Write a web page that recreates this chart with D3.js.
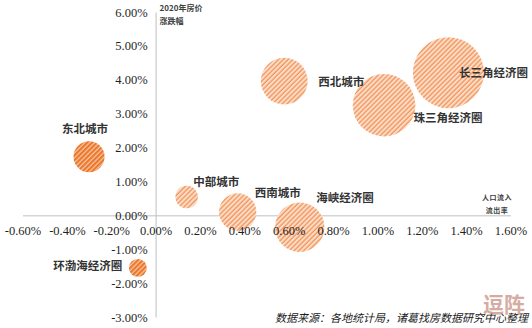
<!DOCTYPE html>
<html><head><meta charset="utf-8">
<script src="https://cdn.jsdelivr.net/npm/d3@7"></script>
<style>
html,body{margin:0;padding:0;background:#fff;}
svg{display:block;}
</style>
</head><body>
<div id="chart"></div>
<script>
// ---- data ----
const regions = ["长三角经济圈","珠三角经济圈","西北城市","海峡经济圈","西南城市","中部城市","东北城市","环渤海经济圈"];
const popFlow = [1.32, 1.03, 0.58, 0.65, 0.37, 0.14, -0.30, -0.08];   // x: 人口流入流出率 (%)
const priceChg = [4.21, 3.25, 3.96, -0.35, 0.10, 0.54, 1.73, -1.55];  // y: 2020年房价涨跌幅 (%)
const bubbleSize = [100, 77.7, 43.4, 48.4, 27.7, 10, 19.1, 6.4];       // relative bubble size
const darkStyle = [false, false, false, false, false, false, true, true];
const xTickValues = [-0.6, -0.4, -0.2, 0, 0.2, 0.4, 0.6, 0.8, 1.0, 1.2, 1.4, 1.6];
const yTickValues = [-3, -2, -1, 0, 1, 2, 3, 4, 5, 6];
const yTitle = ["2020年房价", "涨跌幅"];
const xTitle = ["人口流入", "流出率"];
const sourceText = "数据来源：各地统计局，诸葛找房数据研究中心整理";
const watermark = "逗阵";
// label placement (layout) relative to bubble centre
const labelLayout = [
  {dx: 10.5, dy: 0.5, anchor: "start"},
  {dx: 29.5, dy: 13, anchor: "start"},
  {dx: 34, dy: 0.5, anchor: "start"},
  {dx: 16.5, dy: -29, anchor: "start"},
  {dx: 17, dy: -18.5, anchor: "start"},
  {dx: 6.5, dy: -15, anchor: "start"},
  {dx: -4, dy: -27.5, anchor: "middle"},
  {dx: -15.5, dy: -1.5, anchor: "end"}
];

const W = 532, H = 328;
const svg = d3.select("#chart").append("svg").attr("width", W).attr("height", H);

const x = d3.scaleLinear().domain([-0.6, 1.6]).range([22.5, 510.5]);
const y = d3.scaleLinear().domain([-3, 6]).range([317, 12]);
const r = d3.scaleSqrt().domain([0, 100]).range([0, 35.5]);

const defs = svg.append("defs");
const pl = defs.append("pattern").attr("id", "hatchLight").attr("width", 3.4).attr("height", 3.4)
  .attr("patternUnits", "userSpaceOnUse").attr("patternTransform", "rotate(45)");
pl.append("rect").attr("width", 3.4).attr("height", 3.4).attr("fill", "#fddcc6");
pl.append("line").attr("x1", 1).attr("y1", 0).attr("x2", 1).attr("y2", 3.4)
  .attr("stroke", "#ee8747").attr("stroke-width", 1.1);
const pd = defs.append("pattern").attr("id", "hatchDark").attr("width", 3.4).attr("height", 3.4)
  .attr("patternUnits", "userSpaceOnUse").attr("patternTransform", "rotate(45)");
pd.append("rect").attr("width", 3.4).attr("height", 3.4).attr("fill", "#eb772b");
pd.append("line").attr("x1", 1).attr("y1", 0).attr("x2", 1).attr("y2", 3.4)
  .attr("stroke", "#fde6d6").attr("stroke-width", 0.9);

const fmt = d => d.toFixed(2) + "%";

// axis lines (behind bubbles)
const xLine = svg.append("g").attr("transform", `translate(0,${y(0)})`)
  .call(d3.axisBottom(x).tickValues([]).tickSizeOuter(0));
const yLine = svg.append("g").attr("transform", `translate(${x(0)},0)`)
  .call(d3.axisLeft(y).tickValues([]).tickSizeOuter(0));
[xLine, yLine].forEach(g => g.select(".domain").attr("stroke", "#bfbfbf").attr("stroke-width", 1));

// bubbles
const idx = d3.range(regions.length);
svg.append("g").selectAll("circle").data(idx).join("circle")
  .attr("cx", i => x(popFlow[i]))
  .attr("cy", i => y(priceChg[i]))
  .attr("r", i => r(bubbleSize[i]))
  .attr("fill", i => darkStyle[i] ? "url(#hatchDark)" : "url(#hatchLight)");

// tick labels (above bubbles)
const xAx = svg.append("g").attr("transform", `translate(0,${y(0)})`)
  .call(d3.axisBottom(x).tickValues(xTickValues).tickFormat(fmt).tickSize(0).tickPadding(11));
const yAx = svg.append("g").attr("transform", `translate(${x(0)},0)`)
  .call(d3.axisLeft(y).tickValues(yTickValues).tickFormat(fmt).tickSize(0).tickPadding(8));
[xAx, yAx].forEach(g => {
  g.select(".domain").remove();
  g.selectAll("text").attr("font-family", "'Liberation Serif','Times New Roman',serif")
    .attr("font-size", 12.5).attr("fill", "#1f1f1f");
});

// bubble labels
svg.append("g").selectAll("text").data(idx).join("text")
  .attr("x", i => x(popFlow[i]) + labelLayout[i].dx)
  .attr("y", i => y(priceChg[i]) + labelLayout[i].dy)
  .attr("dy", "0.35em")
  .attr("text-anchor", i => labelLayout[i].anchor)
  .attr("font-family", "'Noto Sans CJK SC',sans-serif")
  .attr("font-weight", "bold")
  .attr("font-size", 11.5)
  .attr("fill", "#333")
  .text(i => regions[i]);

// axis titles
svg.append("g").selectAll("text").data(yTitle).join("text")
  .attr("x", x(0) + 4).attr("y", (d, i) => 8 + i * 13).attr("dy", "0.35em")
  .attr("font-family", "'Noto Sans CJK SC',sans-serif").attr("font-weight", "bold")
  .attr("font-size", 8).attr("fill", "#404040").text(d => d);
svg.append("g").selectAll("text").data(xTitle).join("text")
  .attr("x", 497).attr("y", (d, i) => y(0) - 18 + i * 13).attr("dy", "0.35em")
  .attr("text-anchor", "middle")
  .attr("font-family", "'Noto Sans CJK SC',sans-serif").attr("font-weight", "bold")
  .attr("font-size", 7).attr("letter-spacing", 0.5).attr("fill", "#404040").text(d => d);

// source
svg.append("text").attr("x", 528).attr("y", 318).attr("dy", "0.35em").attr("text-anchor", "end")
  .attr("font-family", "'Noto Sans CJK SC',sans-serif").attr("font-style", "italic")
  .attr("font-size", 11).attr("fill", "#1a1a1a").text(sourceText);

// watermark (overlays the source line, as in the reference)
svg.append("text").attr("x", 504).attr("y", 305).attr("dy", "0.35em").attr("text-anchor", "middle")
  .attr("font-family", "'Noto Sans CJK SC',sans-serif").attr("font-weight", "bold")
  .attr("font-size", 21).attr("fill", "#c98f84").attr("opacity", 0.75).text(watermark);
</script>
</body></html>
